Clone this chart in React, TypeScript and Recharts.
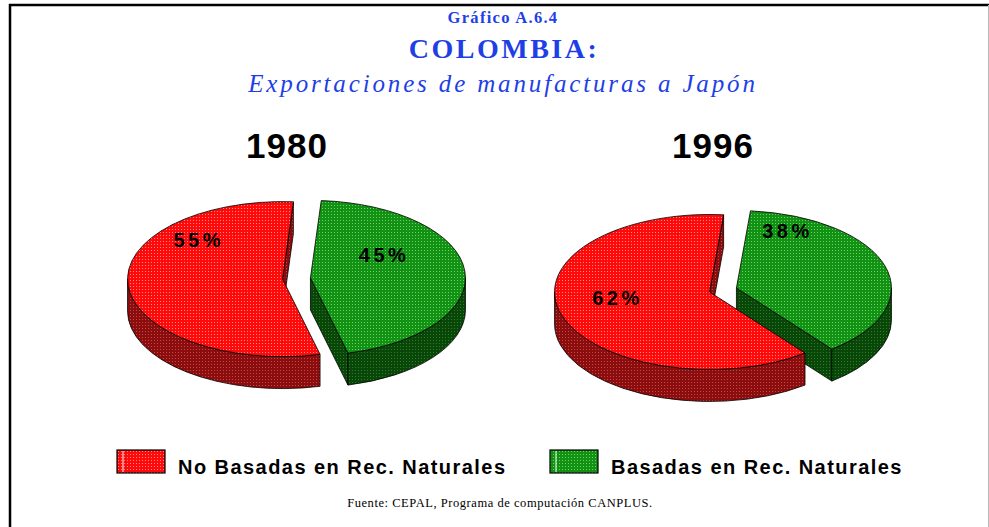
import { Pie, PieChart } from "recharts";

const CATEGORIES = ["No Basadas en Rec. Naturales", "Basadas en Rec. Naturales"];
const YEARS = ["1980", "1996"];
const SHARE_1980 = [55, 45];
const SHARE_1996 = [62, 38];

const W = 989;
const H = 527;
const RADIUS = 155; // horizontal radius of the tilted pie
const TILT = 0.5; // vertical / horizontal radius
const DEPTH = 32;
const EXPLODE = 14;

const SERIF = '"Liberation Serif", "Times New Roman", serif';
const SANS = '"Liberation Sans", Arial, sans-serif';
const BLUE = "#1f3fe6";

const FILLS: Record<string, { top: string; side: string }> = {
  [CATEGORIES[0]]: { top: "url(#redTop)", side: "url(#redSide)" },
  [CATEGORIES[1]]: { top: "url(#greenTop)", side: "url(#greenSide)" },
};

// where Excel put the % labels: angle (deg) and fraction of the radius, from the slice tip
const LABEL_POLAR: Record<string, Record<string, [number, number]>> = {
  "1980": { [CATEGORIES[0]]: [137, 0.74], [CATEGORIES[1]]: [32, 0.56] },
  "1996": { [CATEGORIES[0]]: [188, 0.6], [CATEGORIES[1]]: [66, 0.81] },
};

const PIES = [
  { year: YEARS[0], shares: SHARE_1980, cx: 296.5, cy: 278.5, start: -76 },
  { year: YEARS[1], shares: SHARE_1996, cx: 723, cy: 290, start: -52 },
];

const rad = (a: number) => (a * Math.PI) / 180;
const fmt = (p: number[]) => `${p[0].toFixed(2)},${p[1].toFixed(2)}`;

function sliceTip(cx: number, cy: number, mid: number) {
  return [cx + EXPLODE * Math.cos(rad(mid)), cy - EXPLODE * TILT * Math.sin(rad(mid))];
}

function Slice3D(props: any) {
  const { cx, cy, startAngle, endAngle, midAngle, outerRadius } = props;
  const name = props.payload?.name ?? props.name;
  const fill = FILLS[name];
  const s = Math.min(startAngle, endAngle);
  const e = Math.max(startAngle, endAngle);
  const rx = outerRadius;
  const ry = outerRadius * TILT;
  const [ox, oy] = sliceTip(cx, cy, midAngle);
  const P = (a: number, dz = 0) => [ox + rx * Math.cos(rad(a)), oy - ry * Math.sin(rad(a)) + dz];

  const sides: string[] = [];
  const cut = (a: number) =>
    `M${fmt([ox, oy])} L${fmt(P(a))} L${fmt(P(a, DEPTH))} L${fmt([ox, oy + DEPTH])} Z`;
  if (Math.sin(rad(s - 90)) < 0) sides.push(cut(s));
  if (Math.sin(rad(e + 90)) < 0) sides.push(cut(e));
  for (let k = -2; k <= 2; k++) {
    const a = Math.max(s, 180 + 360 * k);
    const b = Math.min(e, 360 + 360 * k);
    if (b > a) {
      sides.push(
        `M${fmt(P(a))} A${rx},${ry} 0 0 0 ${fmt(P(b))} L${fmt(P(b, DEPTH))} A${rx},${ry} 0 0 1 ${fmt(P(a, DEPTH))} Z`,
      );
    }
  }
  const large = e - s > 180 ? 1 : 0;
  const top = `M${fmt([ox, oy])} L${fmt(P(s))} A${rx},${ry} 0 ${large} 0 ${fmt(P(e))} Z`;

  return (
    <g>
      {sides.map((d, i) => (
        <path key={i} d={d} fill={fill.side} stroke="#000" strokeWidth={0.8} strokeLinejoin="round" />
      ))}
      <path d={top} fill={fill.top} stroke="#000" strokeWidth={0.8} strokeLinejoin="round" />
    </g>
  );
}

const makeLabel = (year: string) => (props: any) => {
  const { cx, cy, midAngle, outerRadius, value } = props;
  const name = props.payload?.name ?? props.name;
  const [ang, frac] = LABEL_POLAR[year][name];
  const [ox, oy] = sliceTip(cx, cy, midAngle);
  const x = ox + outerRadius * frac * Math.cos(rad(ang));
  const y = oy - outerRadius * TILT * frac * Math.sin(rad(ang));
  return (
    <text
      x={x}
      y={y}
      textAnchor="middle"
      dominantBaseline="central"
      fontFamily={SANS}
      fontWeight={700}
      fontSize={20}
      letterSpacing={3.5}
      fill="#000"
    >
      {`${value}%`}
    </text>
  );
};

function Pattern({ id, base, dot }: { id: string; base: string; dot: string }) {
  return (
    <pattern id={id} width={3} height={3} patternUnits="userSpaceOnUse">
      <rect width={3} height={3} fill={base} />
      <rect x={1} y={1} width={1} height={1} fill={dot} />
    </pattern>
  );
}

export default function App() {
  const legend = [
    { name: CATEGORIES[0], box: 117, text: 178, fill: "url(#redTop)" },
    { name: CATEGORIES[1], box: 550, text: 611, fill: "url(#greenTop)" },
  ];

  return (
    <div style={{ position: "absolute", left: 0, top: 0, width: W, height: H, background: "#fff" }}>
      <svg width={W} height={H} style={{ position: "absolute", left: 0, top: 0 }}>
        <defs>
          <Pattern id="redTop" base="#ff0a0a" dot="#ff8a8a" />
          <Pattern id="redSide" base="#8c0d0d" dot="#c24848" />
          <Pattern id="greenTop" base="#129212" dot="#6fcf6f" />
          <Pattern id="greenSide" base="#084708" dot="#2f7a2f" />
        </defs>
        <line x1={9} y1={5} x2={989} y2={5} stroke="#000" strokeWidth={2.5} />
        <line x1={10} y1={4} x2={10} y2={H} stroke="#000" strokeWidth={2.5} />
        <line x1={988.5} y1={5} x2={988.5} y2={H} stroke="#b8b8b8" strokeWidth={1} />

        <text x={503} y={23} textAnchor="middle" fontFamily={SERIF} fontWeight={700} fontSize={16.5} letterSpacing={1.3} fill={BLUE}>
          Gráfico A.6.4
        </text>
        <text x={504} y={58} textAnchor="middle" fontFamily={SERIF} fontWeight={700} fontSize={28} letterSpacing={2.5} fill={BLUE}>
          COLOMBIA:
        </text>
        <text x={503} y={92} textAnchor="middle" fontFamily={SERIF} fontStyle="italic" fontSize={25} letterSpacing={2.85} fill={BLUE}>
          Exportaciones de manufacturas a Japón
        </text>

        {PIES.map((p) => (
          <text
            key={p.year}
            x={p.year === YEARS[0] ? 287 : 713}
            y={158}
            textAnchor="middle"
            fontFamily={SANS}
            fontWeight={700}
            fontSize={35}
            letterSpacing={1}
            fill="#000"
          >
            {p.year}
          </text>
        ))}

        {legend.map((l) => (
          <g key={l.name}>
            <rect x={l.box} y={450} width={48} height={23} fill={l.fill} stroke="#000" strokeWidth={1.2} />
            <line x1={l.box + 6} y1={451} x2={l.box + 6} y2={472} stroke="#fff" strokeWidth={1} />
            <text x={l.text} y={474} fontFamily={SANS} fontWeight={700} fontSize={20} letterSpacing={1.45} fill="#000">
              {l.name}
            </text>
          </g>
        ))}

        <text x={500} y={507} textAnchor="middle" fontFamily={SERIF} fontSize={12.5} letterSpacing={0.55} fill="#000">
          Fuente: CEPAL, Programa de computación CANPLUS.
        </text>
      </svg>

      <div style={{ position: "absolute", left: 0, top: 0 }}>
        <PieChart width={W} height={H} margin={{ top: 0, right: 0, bottom: 0, left: 0 }}>
          {PIES.map((p) => {
            // green first so the front (red) slice is painted over it
            const data = [1, 0].map((i) => ({ name: CATEGORIES[i], value: p.shares[i] }));
            return (
              <Pie
                key={p.year}
                data={data}
                dataKey="value"
                nameKey="name"
                cx={p.cx}
                cy={p.cy}
                innerRadius={0}
                outerRadius={RADIUS}
                startAngle={p.start}
                endAngle={p.start + 360}
                stroke="none"
                shape={Slice3D}
                activeShape={Slice3D}
                inactiveShape={Slice3D}
                label={makeLabel(p.year)}
                labelLine={false}
                isAnimationActive={false}
              />
            );
          })}
        </PieChart>
      </div>
    </div>
  );
}
